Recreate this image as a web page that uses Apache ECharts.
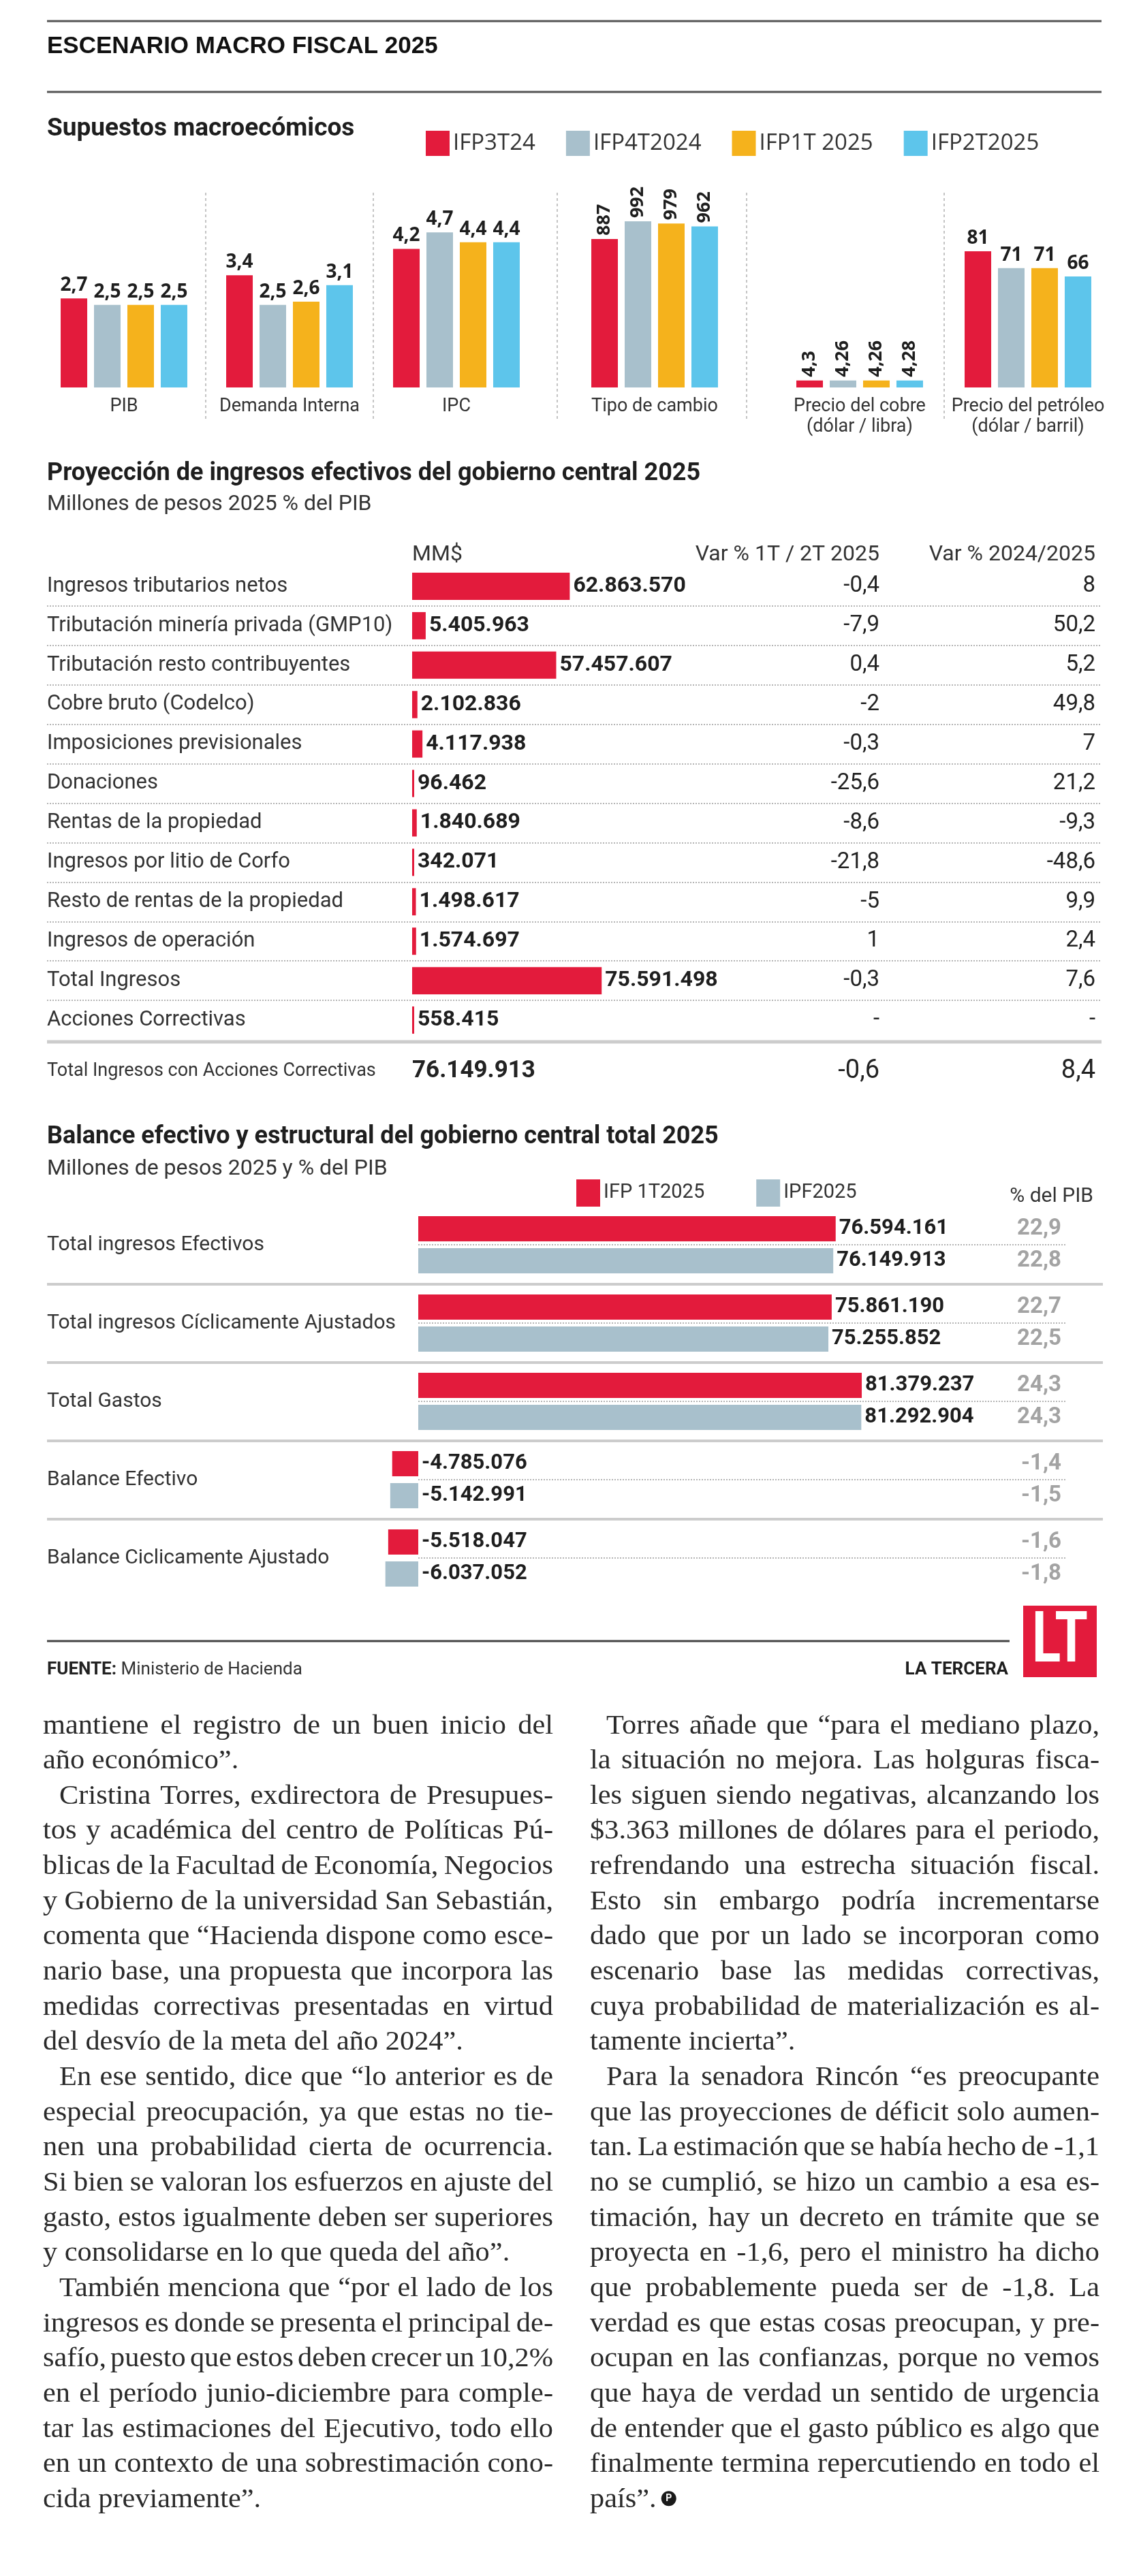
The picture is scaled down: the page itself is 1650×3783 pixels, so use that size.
<!DOCTYPE html>
<html><head><meta charset="utf-8">
<script src="https://cdn.jsdelivr.net/npm/echarts@6/dist/echarts.min.js"></script>
<style>html,body{margin:0;padding:0;background:#fff}#c{width:1650px;height:3783px}</style>
</head><body><div id="c"></div>
<script>
// ---------- DATA ----------
const macroSeries = ['IFP3T24', 'IFP4T2024', 'IFP1T 2025', 'IFP2T2025'];
const macroCategories = ['PIB', 'Demanda Interna', 'IPC', 'Tipo de cambio', 'Precio del cobre\n(dólar / libra)', 'Precio del petróleo\n(dólar / barril)'];
const macroIFP3T24   = [2.7, 3.4, 4.2, 887, 4.3, 81];
const macroIFP4T2024 = [2.5, 2.5, 4.7, 992, 4.26, 71];
const macroIFP1T2025 = [2.5, 2.6, 4.4, 979, 4.26, 71];
const macroIFP2T2025 = [2.5, 3.1, 4.4, 962, 4.28, 66];

const ingresosCategories = ['Ingresos tributarios netos', 'Tributación minería privada (GMP10)', 'Tributación resto contribuyentes', 'Cobre bruto (Codelco)', 'Imposiciones previsionales', 'Donaciones', 'Rentas de la propiedad', 'Ingresos por litio de Corfo', 'Resto de rentas de la propiedad', 'Ingresos de operación', 'Total Ingresos', 'Acciones Correctivas'];
const ingresosMMS = [62863570, 5405963, 57457607, 2102836, 4117938, 96462, 1840689, 342071, 1498617, 1574697, 75591498, 558415];
const ingresosVar1T2T = [-0.4, -7.9, 0.4, -2, -0.3, -25.6, -8.6, -21.8, -5, 1, -0.3, null];
const ingresosVar2024 = [8, 50.2, 5.2, 49.8, 7, 21.2, -9.3, -48.6, 9.9, 2.4, 7.6, null];
const totalConAccionesLabel = ['Total Ingresos con Acciones Correctivas'];
const totalConAccionesMMS = [76149913];
const totalConAccionesVar1T2T = [-0.6];
const totalConAccionesVar2024 = [8.4];

const balanceCategories = ['Total ingresos Efectivos', 'Total ingresos Cíclicamente Ajustados', 'Total Gastos', 'Balance Efectivo', 'Balance Ciclicamente Ajustado'];
const balanceSeries = ['IFP 1T2025', 'IPF2025'];
const balanceIFP1T2025 = [76594161, 75861190, 81379237, -4785076, -5518047];
const balanceIPF2025 = [76149913, 75255852, 81292904, -5142991, -6037052];
const pibIFP1T2025 = [22.9, 22.7, 24.3, -1.4, -1.6];
const pibIPF2025 = [22.8, 22.5, 24.3, -1.5, -1.8];

const articleLeft = [
  {indent: false, lines: ['mantiene el registro de un buen inicio del', 'año económico”.']},
  {indent: true, lines: ['Cristina Torres, exdirectora de Presupues-', 'tos y académica del centro de Políticas Pú-', 'blicas de la Facultad de Economía, Negocios', 'y Gobierno de la universidad San Sebastián,', 'comenta que “Hacienda dispone como esce-', 'nario base, una propuesta que incorpora las', 'medidas correctivas presentadas en virtud', 'del desvío de la meta del año 2024”.']},
  {indent: true, lines: ['En ese sentido, dice que “lo anterior es de', 'especial preocupación, ya que estas no tie-', 'nen una probabilidad cierta de ocurrencia.', 'Si bien se valoran los esfuerzos en ajuste del', 'gasto, estos igualmente deben ser superiores', 'y consolidarse en lo que queda del año”.']},
  {indent: true, lines: ['También menciona que “por el lado de los', 'ingresos es donde se presenta el principal de-', 'safío, puesto que estos deben crecer un 10,2%', 'en el período junio-diciembre para comple-', 'tar las estimaciones del Ejecutivo, todo ello', 'en un contexto de una sobrestimación cono-', 'cida previamente”.']}
];
const articleRight = [
  {indent: true, lines: ['Torres añade que “para el mediano plazo,', 'la situación no mejora. Las holguras fisca-', 'les siguen siendo negativas, alcanzando los', '$3.363 millones de dólares para el periodo,', 'refrendando una estrecha situación fiscal.', 'Esto sin embargo podría incrementarse', 'dado que por un lado se incorporan como', 'escenario base las medidas correctivas,', 'cuya probabilidad de materialización es al-', 'tamente incierta”.']},
  {indent: true, lines: ['Para la senadora Rincón “es preocupante', 'que las proyecciones de déficit solo aumen-', 'tan. La estimación que se había hecho de -1,1', 'no se cumplió, se hizo un cambio a esa es-', 'timación, hay un decreto en trámite que se', 'proyecta en -1,6, pero el ministro ha dicho', 'que probablemente pueda ser de -1,8. La', 'verdad es que estas cosas preocupan, y pre-', 'ocupan en las confianzas, porque no vemos', 'que haya de verdad un sentido de urgencia', 'de entender que el gasto público es algo que', 'finalmente termina repercutiendo en todo el', 'país”.']}
];

// ---------- HELPERS ----------
const RED = '#E31B3C', GREY = '#A8C0CC', YEL = '#F5B21C', CYAN = '#5DC5EB';
const SANS = 'Roboto, "Open Sans", sans-serif';
const OPEN = '"Open Sans", "Noto Sans", sans-serif';
function fmtDec(v) { return v == null ? '-' : String(v).replace('.', ','); }
function fmtInt(v) { const s = Math.abs(Math.round(v)).toString().replace(/\B(?=(\d{3})+(?!\d))/g, '.'); return (v < 0 ? '-' : '') + s; }
const hidden = {axisLine: {show: false}, axisTick: {show: false}, splitLine: {show: false}};

const grids = [], xAxes = [], yAxes = [], series = [], graphics = [];
function addGrid(g) { grids.push(Object.assign({outerBoundsMode: 'none', containLabel: false}, g)); return grids.length - 1; }
function addX(a) { xAxes.push(a); return xAxes.length - 1; }
function addY(a) { yAxes.push(a); return yAxes.length - 1; }

// ---------- SECTION 1: macro assumptions ----------
const macroValues = [macroIFP3T24, macroIFP4T2024, macroIFP1T2025, macroIFP2T2025];
const macroColors = [RED, GREY, YEL, CYAN];
const macroLefts = [89, 332, 577, 868, 1169, 1416];
const macroMax = [6.19, 6.19, 6.19, 1220, 125, 121.5];
const macroRot = [false, false, false, true, true, false];
macroCategories.forEach((c, i) => {
  const g = addGrid({left: macroLefts[i], top: 269, width: 186, height: 300});
  const xi = addX({gridIndex: g, type: 'category', data: [c], axisLine: {show: false}, axisTick: {show: false},
    axisLabel: {interval: 0, margin: 13, fontFamily: SANS, fontSize: 27, lineHeight: 30, color: '#333'}});
  const yi = addY(Object.assign({gridIndex: g, type: 'value', min: 0, max: macroMax[i], axisLabel: {show: false}}, hidden));
  macroSeries.forEach((s, k) => {
    const lab = {show: true, position: 'top', distance: 5, formatter: p => fmtDec(p.value),
      fontFamily: OPEN, fontWeight: 'bold', fontSize: 28, color: '#1e1e1e'};
    if (macroRot[i]) Object.assign(lab, {rotate: 90, align: 'left', verticalAlign: 'middle', fontSize: 27});
    series.push({type: 'bar', name: s, xAxisIndex: xi, yAxisIndex: yi, data: [macroValues[k][i]],
      barWidth: 39, barGap: '25.6%', itemStyle: {color: macroColors[k]}, label: lab});
  });
});

// ---------- SECTION 2: ingresos table ----------
{
  const g = addGrid({left: 605, top: 832, width: 1003, height: 695});
  const xi = addX(Object.assign({gridIndex: g, type: 'value', min: 0, max: 272500000, axisLabel: {show: false}}, hidden));
  const yName = addY(Object.assign({gridIndex: g, type: 'category', inverse: true, position: 'left', data: ingresosCategories,
    axisLabel: {interval: 0, align: 'left', margin: 536, fontFamily: SANS, fontSize: 31, color: '#333'}}, hidden));
  addY(Object.assign({gridIndex: g, type: 'category', inverse: true, position: 'right', offset: 0, data: ingresosVar2024.map(fmtDec),
    axisLabel: {interval: 0, align: 'right', margin: 0, fontFamily: SANS, fontSize: 33, color: '#222'}}, hidden));
  addY(Object.assign({gridIndex: g, type: 'category', inverse: true, position: 'right', offset: -317, data: ingresosVar1T2T.map(fmtDec),
    axisLabel: {interval: 0, align: 'right', margin: 0, fontFamily: SANS, fontSize: 33, color: '#222'}}, hidden));
  series.push({type: 'bar', name: 'MM$', xAxisIndex: xi, yAxisIndex: yName, data: ingresosMMS, barWidth: 40, barMinHeight: 3,
    itemStyle: {color: RED}, label: {show: true, position: 'right', distance: 5, formatter: p => fmtInt(p.value),
      fontFamily: SANS, fontWeight: 'bold', fontSize: 32, color: '#1e1e1e'}});
  // dotted separators between rows (full width)
  const g2 = addGrid({left: 69, top: 832, width: 1548, height: 695});
  addX(Object.assign({gridIndex: g2, type: 'value', min: 0, max: 1, axisLabel: {show: false}}, hidden));
  addY({gridIndex: g2, type: 'category', inverse: true, data: ingresosCategories, axisLine: {show: false}, axisTick: {show: false}, axisLabel: {show: false},
    splitLine: {show: true, showMinLine: false, showMaxLine: false, lineStyle: {type: [2, 2], color: '#b5b5b5', width: 2}}});
  // total row with corrective actions
  const g3 = addGrid({left: 605, top: 1545, width: 1003, height: 56});
  addX(Object.assign({gridIndex: g3, type: 'value', min: 0, max: 1, axisLabel: {show: false}}, hidden));
  addY(Object.assign({gridIndex: g3, type: 'category', position: 'left', data: totalConAccionesLabel,
    axisLabel: {interval: 0, align: 'left', margin: 536, fontFamily: SANS, fontSize: 27, color: '#333'}}, hidden));
  addY(Object.assign({gridIndex: g3, type: 'category', position: 'left', offset: 0, data: totalConAccionesMMS.map(fmtInt),
    axisLabel: {interval: 0, align: 'left', margin: 0, fontFamily: SANS, fontWeight: 'bold', fontSize: 35, color: '#222'}}, hidden));
  addY(Object.assign({gridIndex: g3, type: 'category', position: 'right', offset: 0, data: totalConAccionesVar2024.map(fmtDec),
    axisLabel: {interval: 0, align: 'right', margin: 0, fontFamily: SANS, fontSize: 38, color: '#222'}}, hidden));
  addY(Object.assign({gridIndex: g3, type: 'category', position: 'right', offset: -317, data: totalConAccionesVar1T2T.map(fmtDec),
    axisLabel: {interval: 0, align: 'right', margin: 0, fontFamily: SANS, fontSize: 38, color: '#222'}}, hidden));
}

// ---------- SECTION 3: balance ----------
{
  const g = addGrid({left: 534, top: 1770.5, width: 880, height: 575});
  const xi = addX(Object.assign({gridIndex: g, type: 'value', min: -10000000, max: 100000000, axisLabel: {show: false}}, hidden));
  const yName = addY({gridIndex: g, type: 'category', inverse: true, position: 'left', data: balanceCategories,
    axisLine: {show: false, onZero: false}, axisTick: {show: false}, splitLine: {show: false},
    axisLabel: {interval: 0, align: 'left', margin: 465, fontFamily: SANS, fontSize: 30, color: '#333'}});
  addY(Object.assign({gridIndex: g, type: 'category', inverse: true, position: 'right', offset: 144,
    data: balanceCategories.map((c, i) => fmtDec(pibIFP1T2025[i]) + '\n' + fmtDec(pibIPF2025[i])),
    axisLabel: {interval: 0, align: 'right', margin: 0, lineHeight: 47, fontFamily: SANS, fontWeight: 'bold', fontSize: 33, color: '#a3a3a3'}}, hidden));
  const lab = {show: true, position: 'right', distance: 5, formatter: p => fmtInt(p.value), fontFamily: SANS, fontWeight: 'bold', fontSize: 31, color: '#1e1e1e'};
  series.push({type: 'bar', name: balanceSeries[0], xAxisIndex: xi, yAxisIndex: yName, data: balanceIFP1T2025, barWidth: 37, barGap: '27%', itemStyle: {color: RED}, label: lab});
  series.push({type: 'bar', name: balanceSeries[1], xAxisIndex: xi, yAxisIndex: yName, data: balanceIPF2025, barWidth: 37, barGap: '27%', itemStyle: {color: GREY}, label: lab});
  // dotted lines between the two bars of each group
  const g2 = addGrid({left: 614, top: 1828, width: 952, height: 460});
  addX(Object.assign({gridIndex: g2, type: 'value', min: 0, max: 1, axisLabel: {show: false}}, hidden));
  addY({gridIndex: g2, type: 'category', inverse: true, boundaryGap: false, data: balanceCategories, axisLine: {show: false}, axisTick: {show: false}, axisLabel: {show: false},
    splitLine: {show: true, lineStyle: {type: [2, 2], color: '#b5b5b5', width: 2}}});
  // solid separators between groups (full width)
  const g3 = addGrid({left: 69, top: 1770.5, width: 1550, height: 575});
  addX(Object.assign({gridIndex: g3, type: 'value', min: 0, max: 1, axisLabel: {show: false}}, hidden));
  addY({gridIndex: g3, type: 'category', inverse: true, data: balanceCategories, axisLine: {show: false}, axisTick: {show: false}, axisLabel: {show: false},
    splitLine: {show: true, showMinLine: false, showMaxLine: false, lineStyle: {type: 'solid', color: '#cccccc', width: 4}}});
}

// ---------- GRAPHICS (text & rules) ----------
function txt(text, x, y, font, fill, align, sx) {
  graphics.push({type: 'text', x: x, y: y, scaleX: sx || 1, silent: true, style: {text: text, x: 0, y: 0, font: font, fill: fill || '#222',
    align: align || 'left', textAlign: align || 'left', verticalAlign: 'middle', textVerticalAlign: 'middle'}});
}
function line(x1, y1, x2, y2, stroke, w, dash) {
  graphics.push({type: 'line', silent: true, shape: {x1, y1, x2, y2}, style: {stroke, lineWidth: w, lineDash: dash || null}});
}
line(69, 31, 1617, 31, '#555', 3);
line(69, 135, 1617, 135, '#555', 3);
txt('ESCENARIO MACRO FISCAL 2025', 69, 68, 'bold 35px "Liberation Sans", Arial, sans-serif', '#111');
txt('Supuestos macroecómicos', 69, 190, 'bold 37px Roboto, sans-serif', '#1e1e1e');
[302, 548, 818, 1096, 1386].forEach(x => line(x, 283, x, 615, '#c4c4c4', 2, [4, 4]));

txt('Proyección de ingresos efectivos del gobierno central 2025', 69, 696, 'bold 36px Roboto, sans-serif', '#1e1e1e');
txt('Millones de pesos 2025 % del PIB', 69, 741, '32px Roboto, sans-serif', '#333');
txt('MM$', 605, 815, '32px Roboto, sans-serif', '#333');
txt('Var % 1T / 2T 2025', 1291, 815, '32px Roboto, sans-serif', '#333', 'right');
txt('Var % 2024/2025', 1608, 815, '32px Roboto, sans-serif', '#333', 'right');
line(69, 1530, 1617, 1530, '#cccccc', 5);

txt('Balance efectivo y estructural del gobierno central total 2025', 69, 1670, 'bold 36px Roboto, sans-serif', '#1e1e1e');
txt('Millones de pesos 2025 y % del PIB', 69, 1717, '32px Roboto, sans-serif', '#333');
txt('% del PIB', 1605, 1757, '30px Roboto, sans-serif', '#333', 'right');

line(69, 2410, 1482, 2410, '#444', 3);
graphics.push({type: 'text', x: 69, y: 2452, silent: true, style: {text: '{b|FUENTE:} Ministerio de Hacienda', x: 0, y: 0,
  font: '26px ' + SANS, fill: '#333', verticalAlign: 'middle', textVerticalAlign: 'middle',
  rich: {b: {fontWeight: 'bold', fontSize: 26, fontFamily: SANS, fill: '#222'}}}});
txt('LA TERCERA', 1480, 2452, 'bold 26px ' + SANS, '#1e1e1e', 'right');
graphics.push({type: 'rect', silent: true, shape: {x: 1502, y: 2358, width: 108, height: 105}, style: {fill: RED}});
graphics.push({type: 'text', x: 1556, y: 2414, scaleX: 0.75, silent: true, style: {text: 'LT', x: 0, y: 0, font: 'bold 104px ' + SANS, fill: '#fff',
  align: 'center', textAlign: 'center', verticalAlign: 'middle', textVerticalAlign: 'middle'}});

// ---------- ARTICLE (justified, word by word) ----------
const AF = '40px "Liberation Serif", "DejaVu Serif", serif';
const SX = 1.06;
const mctx = document.createElement('canvas').getContext('2d');
mctx.font = AF;
function layoutColumn(paras, colX, colW, y0, pitch) {
  let li = 0, lastEnd = 0, lastY = 0;
  paras.forEach(p => {
    p.lines.forEach((ln, k) => {
      const y = y0 + li * pitch;
      const indent = (k === 0 && p.indent) ? 24 : 0;
      const words = ln.split(' ');
      const ws = words.map(w => mctx.measureText(w).width * SX);
      const sum = ws.reduce((a, b) => a + b, 0);
      const isLast = k === p.lines.length - 1;
      let gap = mctx.measureText(' ').width * SX;
      if (!isLast && words.length > 1) gap = (colW - indent - sum) / (words.length - 1);
      let x = colX + indent;
      words.forEach((w, j) => {
        graphics.push({type: 'text', x: x, y: y, scaleX: SX, silent: true,
          style: {text: w, x: 0, y: 0, font: AF, fill: '#2a2a2a', verticalAlign: 'middle', textVerticalAlign: 'middle'}});
        x += ws[j] + gap;
      });
      lastEnd = x - gap; lastY = y;
      li++;
    });
  });
  return [lastEnd, lastY];
}
layoutColumn(articleLeft, 63, 749, 2535, 51.65);
const endR = layoutColumn(articleRight, 866, 748, 2535, 51.65);
graphics.push({type: 'circle', silent: true, shape: {cx: endR[0] + 18, cy: endR[1] - 2, r: 11}, style: {fill: '#1a1a1a'}});
graphics.push({type: 'text', x: endR[0] + 18, y: endR[1] - 2, silent: true, style: {text: 'P', x: 0, y: 0, font: 'bold 14px ' + SANS, fill: '#fff',
  align: 'center', textAlign: 'center', verticalAlign: 'middle', textVerticalAlign: 'middle'}});

// ---------- CHART ----------
const chart = echarts.init(document.getElementById('c'), null, {renderer: 'canvas'});
chart.setOption({
  animation: false,
  backgroundColor: '#ffffff',
  textStyle: {fontFamily: SANS},
  legend: [
    {data: macroSeries, left: 620, top: 187, itemWidth: 35, itemHeight: 37, itemGap: 45, icon: 'rect', selectedMode: false,
      textStyle: {fontFamily: OPEN, fontSize: 33, color: '#333'}},
    {data: balanceSeries, left: 841, top: 1727, itemWidth: 35, itemHeight: 40, itemGap: 76, icon: 'rect', selectedMode: false,
      textStyle: {fontFamily: SANS, fontSize: 29, color: '#333'}}
  ],
  grid: grids, xAxis: xAxes, yAxis: yAxes, series: series,
  graphic: {elements: graphics}
});
</script></body></html>
